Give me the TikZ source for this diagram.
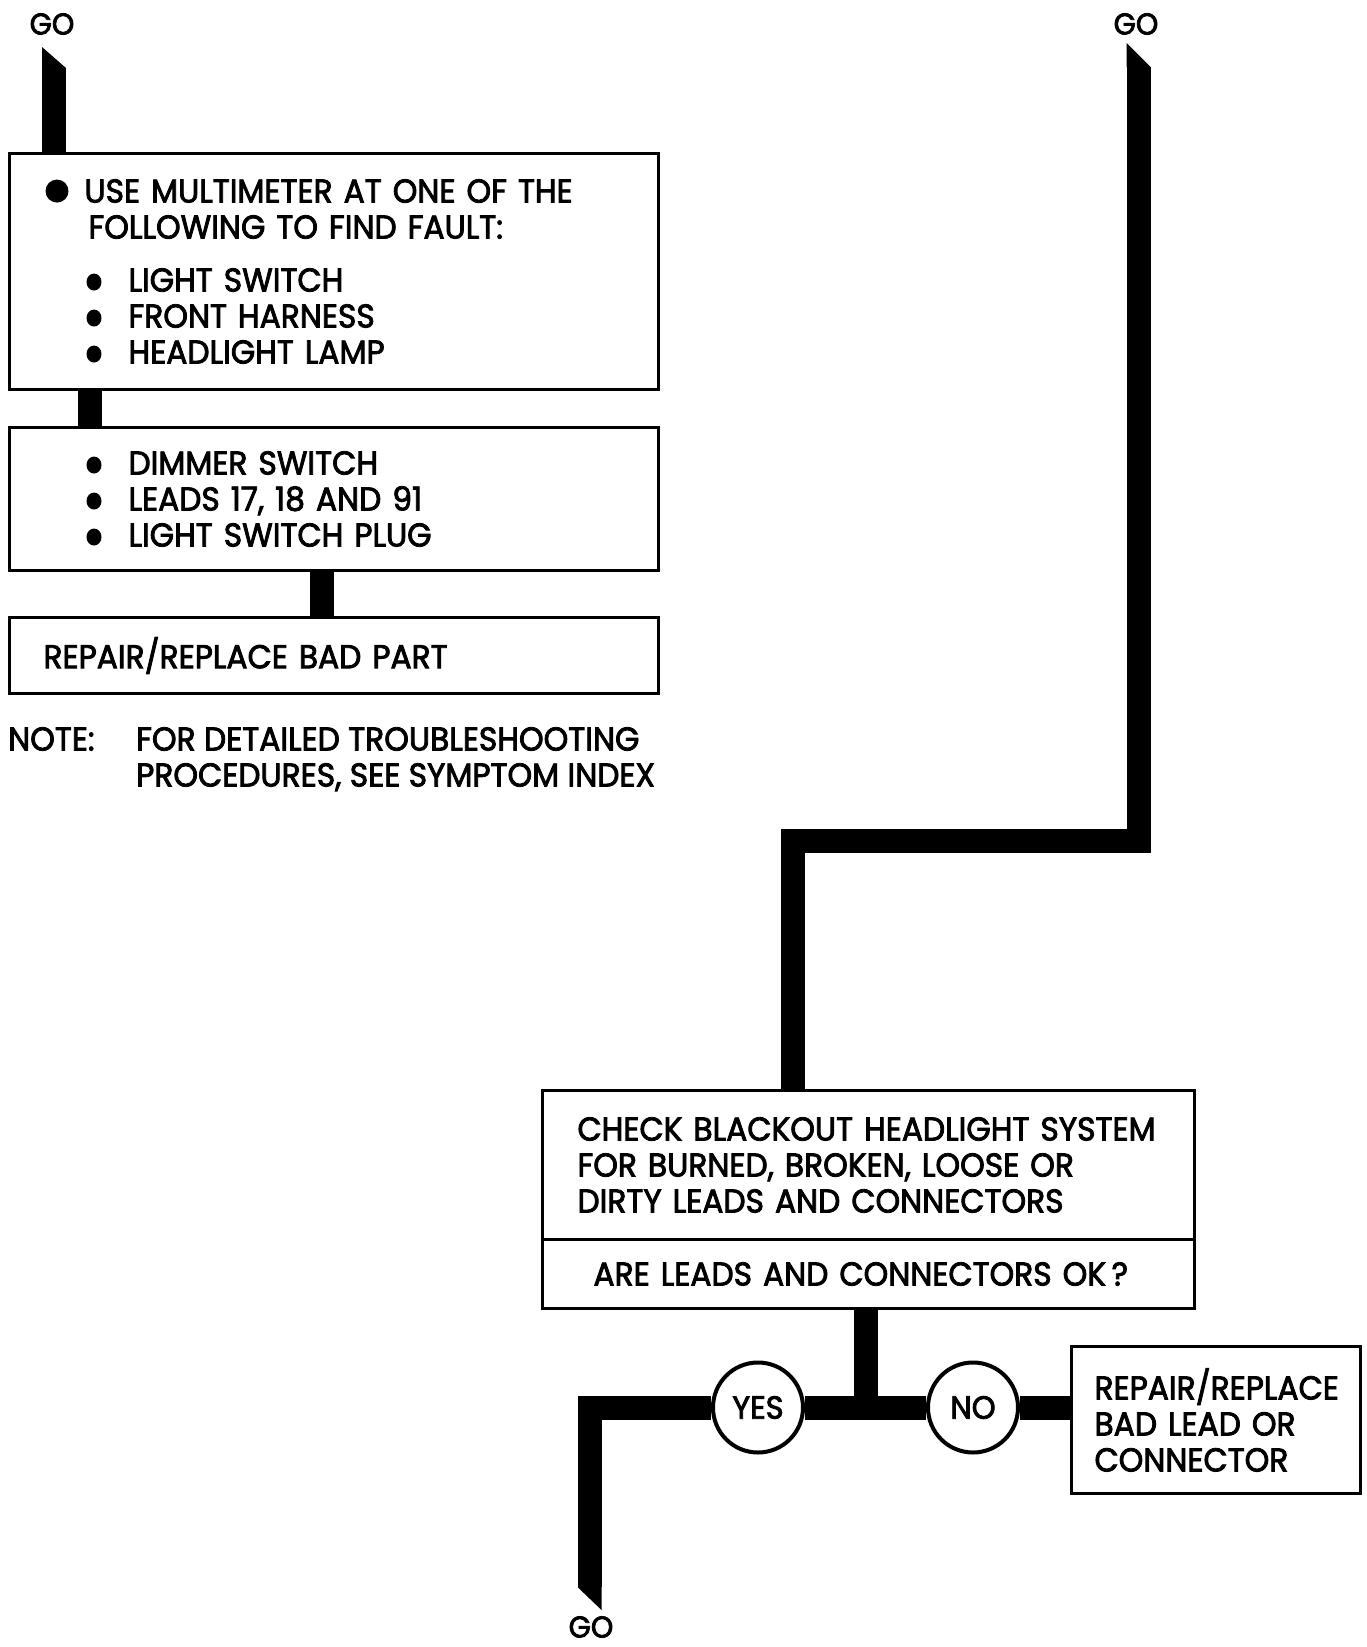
\documentclass[tikz,border=0pt]{standalone}
\usepackage{fontspec}
\setmainfont[FakeStretch=0.95, FakeBold=2.5]{Poppins}
\usetikzlibrary{positioning}

\newcommand{\bigdot}{\tikz[baseline=-11.5pt]\fill (0,0) circle[radius=11.5pt];}
\newcommand{\smalldot}{\tikz[baseline=-9.5pt]\fill (0,0) circle[x radius=7.5pt, y radius=8.5pt];}

\tikzset{
  bar/.style={line width=24pt, line join=miter},
  box/.style={draw, line width=3pt, anchor=north west, inner ysep=0pt,
    align=left, font=\fontsize{33}{36}\selectfont},
  answer/.style={draw, circle, line width=4pt, fill=white, minimum size=90pt,
    inner sep=0pt, font=\fontsize{32}{32}\selectfont},
  golabel/.style={font=\fontsize{30}{30}\selectfont, inner sep=0pt},
  notch/.style={fill=black}
}

\begin{document}
\begin{tikzpicture}[x=1pt, y=-1pt]
  \useasboundingbox (0,0) rectangle (1366,1647);

  % left column
  \node[box, minimum width=649pt, minimum height=236pt, inner xsep=36pt, text width=577pt] (meter) at (8,152)
    {\bigdot\hspace{16pt}USE MULTIMETER AT ONE OF THE\\
     \hspace*{43pt}FOLLOWING TO FIND FAULT:\\[17pt]
     \hspace*{41pt}\smalldot\hspace{27pt}LIGHT SWITCH\\
     \hspace*{41pt}\smalldot\hspace{27pt}FRONT HARNESS\\
     \hspace*{41pt}\smalldot\hspace{27pt}HEADLIGHT LAMP};
  \node[box, minimum width=649pt, minimum height=143pt, inner xsep=36pt, text width=577pt,
    below=35pt of meter.south west, anchor=north west] (leads)
    {\hspace*{41pt}\smalldot\hspace{27pt}DIMMER SWITCH\\
     \hspace*{41pt}\smalldot\hspace{27pt}LEADS 17, 18 AND 91\\
     \hspace*{41pt}\smalldot\hspace{27pt}LIGHT SWITCH PLUG};
  \node[box, minimum width=649pt, minimum height=76pt, inner xsep=34pt, text width=581pt,
    below=44pt of leads.south west, anchor=north west] (repair)
    {REPAIR/REPLACE BAD PART};
  \node[align=left, inner sep=0pt, anchor=north west, font=\fontsize{33}{36}\selectfont] (note) at (8,727)
    {\makebox[128pt][l]{NOTE:}FOR DETAILED TROUBLESHOOTING\\
     \hspace*{128pt}PROCEDURES, SEE SYMPTOM INDEX};

  % right column
  \node[box, minimum width=652pt, minimum height=149pt, inner xsep=35pt, text width=582pt] (check) at (541,1089)
    {CHECK BLACKOUT HEADLIGHT SYSTEM\\
     FOR BURNED, BROKEN, LOOSE OR\\
     DIRTY LEADS AND CONNECTORS};
  \node[box, minimum width=652pt, minimum height=69pt, inner xsep=51pt, text width=550pt,
    below=-3pt of check.south west, anchor=north west] (question)
    {ARE LEADS AND CONNECTORS OK\,?};
  \node[box, minimum width=289pt, minimum height=147pt, inner xsep=23pt, text width=243pt] (fixlead) at (1070,1345)
    {REPAIR/REPLACE\\
     BAD LEAD OR\\
     CONNECTOR};
  \node[answer] (yes) at (758,1407.5) {YES};
  \node[answer] (no) at (973,1407.5) {NO};

  \node[golabel] (goLtext) at (52,24) {GO};
  \node[golabel] (goRtext) at (1136,24) {GO};
  \node[golabel] (goBtext) at (591,1627) {GO};

  \coordinate (goL) at (54,68);
  \coordinate (goR) at (1138.5,67);
  \coordinate (bendR) at (1138.5,840.5);
  \coordinate (bendL) at (792.5,840.5);
  \coordinate (split) at (865.5,1407.5);
  \coordinate (bendB) at (589.5,1407.5);
  \coordinate (goB) at (589.5,1587);

  % thick flow bars
  \draw[bar] (goL) -- (goL |- meter.north);
  \fill[notch] ([xshift=-12pt]goL) -- ([xshift=12pt]goL) -- ([xshift=-12pt,yshift=21pt]goL) -- cycle;
  \draw[bar] ([xshift=82pt]meter.south west) -- ([xshift=82pt]leads.north west);
  \draw[bar] ([xshift=314pt]leads.south west) -- ([xshift=314pt]repair.north west);

  \draw[bar] (goR) -- (bendR) -- (bendL) -- (bendL |- check.north);
  \fill[notch] ([xshift=-12pt]goR) -- ([xshift=12pt]goR) -- ([xshift=-12pt,yshift=24pt]goR) -- cycle;

  \draw[bar] (split |- question.south) -- (split);
  \draw[bar] (yes.east) -- (no.west);
  \draw[bar] (no.east) -- (no.east -| fixlead.west);
  \draw[bar] (yes.west) -- (bendB) -- (goB);
  \fill[notch] ([xshift=-12pt]goB) -- ([xshift=12pt]goB) -- ([xshift=12pt,yshift=-23pt]goB) -- cycle;
\end{tikzpicture}
\end{document}
